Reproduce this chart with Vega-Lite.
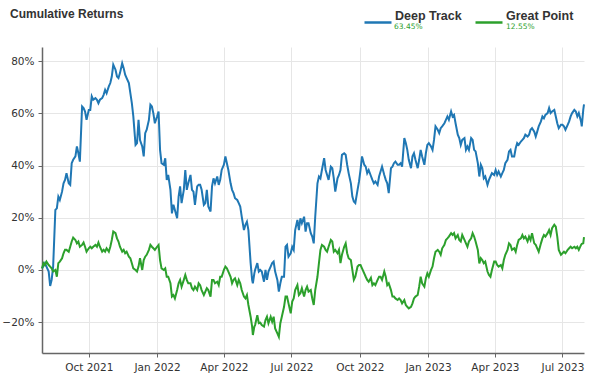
{
  "$schema": "https://vega.github.io/schema/vega-lite/v6.json",
  "width": 542,
  "height": 306,
  "autosize": "none",
  "padding": {"left": 42, "top": 47, "right": 15, "bottom": 38},
  "background": "white",
  "title": {"text": "Cumulative Returns", "anchor": "start", "frame": "group", "dx": -32, "dy": 13, "offset": 0, "font": "Liberation Sans", "fontSize": 12, "fontWeight": "bold", "color": "#333333"},
  "config": {"view": {"stroke": null}},
  "data": {"values": [
    {"date":"2021-07-30","Deep Track":0.6,"Great Point":0.6},
    {"date":"2021-08-01","Deep Track":1.5,"Great Point":2.6},
    {"date":"2021-08-03","Deep Track":2.6,"Great Point":1.9},
    {"date":"2021-08-05","Deep Track":1.3,"Great Point":3.2},
    {"date":"2021-08-08","Deep Track":-0.6,"Great Point":1.9},
    {"date":"2021-08-10","Deep Track":-6.1,"Great Point":1.3},
    {"date":"2021-08-12","Deep Track":-3.8,"Great Point":0.6},
    {"date":"2021-08-14","Deep Track":1.3,"Great Point":-0.6},
    {"date":"2021-08-17","Deep Track":23.0,"Great Point":0},
    {"date":"2021-08-19","Deep Track":23.6,"Great Point":-2.6},
    {"date":"2021-08-21","Deep Track":28.1,"Great Point":2.6},
    {"date":"2021-08-23","Deep Track":26.8,"Great Point":3.2},
    {"date":"2021-08-26","Deep Track":30.0,"Great Point":4.5},
    {"date":"2021-08-28","Deep Track":33.2,"Great Point":6.4},
    {"date":"2021-08-30","Deep Track":34.5,"Great Point":7.7},
    {"date":"2021-09-01","Deep Track":37.1,"Great Point":7.7},
    {"date":"2021-09-04","Deep Track":33.2,"Great Point":7.0},
    {"date":"2021-09-06","Deep Track":32.6,"Great Point":8.9},
    {"date":"2021-09-08","Deep Track":40.9,"Great Point":10.9},
    {"date":"2021-09-10","Deep Track":42.2,"Great Point":12.4},
    {"date":"2021-09-13","Deep Track":43.5,"Great Point":11.5},
    {"date":"2021-09-15","Deep Track":47.3,"Great Point":10.2},
    {"date":"2021-09-17","Deep Track":44.7,"Great Point":10.9},
    {"date":"2021-09-19","Deep Track":41.5,"Great Point":8.9},
    {"date":"2021-09-22","Deep Track":62.6,"Great Point":9.6},
    {"date":"2021-09-24","Deep Track":62.0,"Great Point":10.5},
    {"date":"2021-09-26","Deep Track":60.7,"Great Point":8.9},
    {"date":"2021-09-28","Deep Track":57.5,"Great Point":7.0},
    {"date":"2021-10-01","Deep Track":61.3,"Great Point":8.3},
    {"date":"2021-10-03","Deep Track":61.3,"Great Point":8.9},
    {"date":"2021-10-05","Deep Track":66.5,"Great Point":8.3},
    {"date":"2021-10-07","Deep Track":65.2,"Great Point":8.9},
    {"date":"2021-10-10","Deep Track":65.8,"Great Point":9.6},
    {"date":"2021-10-12","Deep Track":65.2,"Great Point":8.9},
    {"date":"2021-10-14","Deep Track":63.9,"Great Point":10.5},
    {"date":"2021-10-16","Deep Track":65.2,"Great Point":8.9},
    {"date":"2021-10-19","Deep Track":65.8,"Great Point":7.0},
    {"date":"2021-10-21","Deep Track":67.1,"Great Point":7.7},
    {"date":"2021-10-23","Deep Track":69.0,"Great Point":7.0},
    {"date":"2021-10-25","Deep Track":67.7,"Great Point":8.3},
    {"date":"2021-10-28","Deep Track":70.3,"Great Point":7.0},
    {"date":"2021-10-30","Deep Track":71.6,"Great Point":8.9},
    {"date":"2021-11-01","Deep Track":74.1,"Great Point":11.5},
    {"date":"2021-11-03","Deep Track":78.6,"Great Point":14.7},
    {"date":"2021-11-06","Deep Track":76.7,"Great Point":14.1},
    {"date":"2021-11-08","Deep Track":74.1,"Great Point":12.1},
    {"date":"2021-11-10","Deep Track":73.5,"Great Point":10.9},
    {"date":"2021-11-12","Deep Track":75.4,"Great Point":8.9},
    {"date":"2021-11-15","Deep Track":79.2,"Great Point":7.0},
    {"date":"2021-11-17","Deep Track":77.3,"Great Point":7.7},
    {"date":"2021-11-19","Deep Track":74.8,"Great Point":6.4},
    {"date":"2021-11-21","Deep Track":73.5,"Great Point":7.0},
    {"date":"2021-11-24","Deep Track":71.6,"Great Point":5.1},
    {"date":"2021-11-26","Deep Track":67.7,"Great Point":4.5},
    {"date":"2021-11-28","Deep Track":63.9,"Great Point":2.6},
    {"date":"2021-11-30","Deep Track":58.8,"Great Point":0.6},
    {"date":"2021-12-03","Deep Track":47.9,"Great Point":0},
    {"date":"2021-12-05","Deep Track":48.6,"Great Point":-0.6},
    {"date":"2021-12-07","Deep Track":57.5,"Great Point":1.3},
    {"date":"2021-12-09","Deep Track":49.8,"Great Point":4.5},
    {"date":"2021-12-12","Deep Track":47.3,"Great Point":0},
    {"date":"2021-12-14","Deep Track":43.5,"Great Point":3.8},
    {"date":"2021-12-16","Deep Track":52.4,"Great Point":5.1},
    {"date":"2021-12-18","Deep Track":53.7,"Great Point":5.8},
    {"date":"2021-12-21","Deep Track":57.5,"Great Point":7.7},
    {"date":"2021-12-23","Deep Track":63.3,"Great Point":9.6},
    {"date":"2021-12-25","Deep Track":62.6,"Great Point":8.9},
    {"date":"2021-12-27","Deep Track":60.0,"Great Point":8.3},
    {"date":"2021-12-29","Deep Track":56.2,"Great Point":7.7},
    {"date":"2022-01-01","Deep Track":58.8,"Great Point":8.9},
    {"date":"2022-01-03","Deep Track":60.7,"Great Point":9.6},
    {"date":"2022-01-05","Deep Track":46.0,"Great Point":3.8},
    {"date":"2022-01-07","Deep Track":40.9,"Great Point":0.6},
    {"date":"2022-01-10","Deep Track":40.3,"Great Point":0},
    {"date":"2022-01-12","Deep Track":42.8,"Great Point":0.6},
    {"date":"2022-01-14","Deep Track":34.5,"Great Point":-2.6},
    {"date":"2022-01-16","Deep Track":36.4,"Great Point":-2.6},
    {"date":"2022-01-19","Deep Track":30.7,"Great Point":-5.1},
    {"date":"2022-01-21","Deep Track":21.7,"Great Point":-10.2},
    {"date":"2022-01-23","Deep Track":25.0,"Great Point":-9.6},
    {"date":"2022-01-25","Deep Track":23.0,"Great Point":-10.9},
    {"date":"2022-01-28","Deep Track":19.8,"Great Point":-7.7},
    {"date":"2022-01-30","Deep Track":28.1,"Great Point":-5.1},
    {"date":"2022-02-01","Deep Track":32.0,"Great Point":-3.8},
    {"date":"2022-02-03","Deep Track":25.6,"Great Point":-6.4},
    {"date":"2022-02-06","Deep Track":30.7,"Great Point":-3.8},
    {"date":"2022-02-08","Deep Track":38.3,"Great Point":-1.9},
    {"date":"2022-02-10","Deep Track":30.7,"Great Point":-3.8},
    {"date":"2022-02-12","Deep Track":33.2,"Great Point":-5.1},
    {"date":"2022-02-15","Deep Track":36.4,"Great Point":-5.1},
    {"date":"2022-02-17","Deep Track":30.7,"Great Point":-7.0},
    {"date":"2022-02-19","Deep Track":30.0,"Great Point":-7.7},
    {"date":"2022-02-21","Deep Track":24.9,"Great Point":-6.4},
    {"date":"2022-02-24","Deep Track":32.0,"Great Point":-7.7},
    {"date":"2022-02-26","Deep Track":32.6,"Great Point":-5.1},
    {"date":"2022-02-28","Deep Track":32.6,"Great Point":-5.8},
    {"date":"2022-03-02","Deep Track":30.7,"Great Point":-7.7},
    {"date":"2022-03-05","Deep Track":24.9,"Great Point":-9.6},
    {"date":"2022-03-07","Deep Track":25.6,"Great Point":-8.3},
    {"date":"2022-03-09","Deep Track":30.7,"Great Point":-7.0},
    {"date":"2022-03-11","Deep Track":24.3,"Great Point":-7.7},
    {"date":"2022-03-14","Deep Track":22.4,"Great Point":-10.2},
    {"date":"2022-03-16","Deep Track":32.0,"Great Point":-3.8},
    {"date":"2022-03-18","Deep Track":35.1,"Great Point":-3.8},
    {"date":"2022-03-20","Deep Track":33.2,"Great Point":-5.1},
    {"date":"2022-03-23","Deep Track":35.8,"Great Point":-4.5},
    {"date":"2022-03-25","Deep Track":32.6,"Great Point":-5.8},
    {"date":"2022-03-27","Deep Track":34.5,"Great Point":-2.6},
    {"date":"2022-03-29","Deep Track":38.3,"Great Point":-2.6},
    {"date":"2022-04-01","Deep Track":40.3,"Great Point":0},
    {"date":"2022-04-03","Deep Track":43.5,"Great Point":1.3},
    {"date":"2022-04-05","Deep Track":40.9,"Great Point":0.6},
    {"date":"2022-04-07","Deep Track":38.3,"Great Point":-0.6},
    {"date":"2022-04-10","Deep Track":33.2,"Great Point":-2.6},
    {"date":"2022-04-12","Deep Track":30.7,"Great Point":-5.1},
    {"date":"2022-04-14","Deep Track":29.4,"Great Point":-3.8},
    {"date":"2022-04-16","Deep Track":27.5,"Great Point":-3.2},
    {"date":"2022-04-19","Deep Track":26.8,"Great Point":-5.8},
    {"date":"2022-04-21","Deep Track":25.6,"Great Point":-3.8},
    {"date":"2022-04-23","Deep Track":24.3,"Great Point":-5.1},
    {"date":"2022-04-25","Deep Track":20.4,"Great Point":-7.7},
    {"date":"2022-04-28","Deep Track":15.3,"Great Point":-10.2},
    {"date":"2022-04-30","Deep Track":17.3,"Great Point":-10.9},
    {"date":"2022-05-02","Deep Track":18.5,"Great Point":-9.6},
    {"date":"2022-05-04","Deep Track":15.3,"Great Point":-13.4},
    {"date":"2022-05-07","Deep Track":2.6,"Great Point":-17.9},
    {"date":"2022-05-09","Deep Track":-3.8,"Great Point":-21.7},
    {"date":"2022-05-10","Deep Track":-5.1,"Great Point":-24.9},
    {"date":"2022-05-12","Deep Track":-1.3,"Great Point":-21.7},
    {"date":"2022-05-13","Deep Track":0,"Great Point":-21.1},
    {"date":"2022-05-16","Deep Track":2.6,"Great Point":-17.3},
    {"date":"2022-05-18","Deep Track":-0.6,"Great Point":-20.4},
    {"date":"2022-05-20","Deep Track":0,"Great Point":-20.2},
    {"date":"2022-05-22","Deep Track":-0.6,"Great Point":-21.1},
    {"date":"2022-05-25","Deep Track":-4.5,"Great Point":-21.7},
    {"date":"2022-05-27","Deep Track":0,"Great Point":-19.2},
    {"date":"2022-05-29","Deep Track":-3.8,"Great Point":-17.9},
    {"date":"2022-05-31","Deep Track":-0.6,"Great Point":-20.4},
    {"date":"2022-06-03","Deep Track":1.3,"Great Point":-17.9},
    {"date":"2022-06-05","Deep Track":2.6,"Great Point":-19.8},
    {"date":"2022-06-07","Deep Track":3.2,"Great Point":-17.9},
    {"date":"2022-06-09","Deep Track":-0.6,"Great Point":-22.4},
    {"date":"2022-06-12","Deep Track":-3.8,"Great Point":-24.3},
    {"date":"2022-06-14","Deep Track":-8.3,"Great Point":-25.6},
    {"date":"2022-06-16","Deep Track":-5.1,"Great Point":-20.4},
    {"date":"2022-06-18","Deep Track":-2.6,"Great Point":-17.9},
    {"date":"2022-06-21","Deep Track":-2.6,"Great Point":-14.1},
    {"date":"2022-06-23","Deep Track":8.9,"Great Point":-10.2},
    {"date":"2022-06-25","Deep Track":9.6,"Great Point":-10.2},
    {"date":"2022-06-27","Deep Track":5.1,"Great Point":-12.8},
    {"date":"2022-06-30","Deep Track":6.4,"Great Point":-16.6},
    {"date":"2022-07-02","Deep Track":8.9,"Great Point":-12.1},
    {"date":"2022-07-04","Deep Track":7.7,"Great Point":-10.9},
    {"date":"2022-07-06","Deep Track":15.3,"Great Point":-7.7},
    {"date":"2022-07-09","Deep Track":19.2,"Great Point":-5.8},
    {"date":"2022-07-11","Deep Track":15.3,"Great Point":-9.6},
    {"date":"2022-07-13","Deep Track":19.8,"Great Point":-8.9},
    {"date":"2022-07-15","Deep Track":17.9,"Great Point":-7.0},
    {"date":"2022-07-18","Deep Track":20.4,"Great Point":-10.2},
    {"date":"2022-07-20","Deep Track":14.7,"Great Point":-7.7},
    {"date":"2022-07-22","Deep Track":17.9,"Great Point":-6.4},
    {"date":"2022-07-24","Deep Track":17.9,"Great Point":-8.3},
    {"date":"2022-07-27","Deep Track":14.1,"Great Point":-7.7},
    {"date":"2022-07-29","Deep Track":12.8,"Great Point":-10.9},
    {"date":"2022-07-31","Deep Track":10.2,"Great Point":-13.4},
    {"date":"2022-08-02","Deep Track":20.4,"Great Point":-7.7},
    {"date":"2022-08-05","Deep Track":33.2,"Great Point":-2.6},
    {"date":"2022-08-07","Deep Track":35.8,"Great Point":2.6},
    {"date":"2022-08-09","Deep Track":35.1,"Great Point":7.7},
    {"date":"2022-08-11","Deep Track":38.3,"Great Point":9.6},
    {"date":"2022-08-14","Deep Track":42.8,"Great Point":8.9},
    {"date":"2022-08-16","Deep Track":38.3,"Great Point":7.7},
    {"date":"2022-08-18","Deep Track":36.4,"Great Point":7.0},
    {"date":"2022-08-20","Deep Track":34.5,"Great Point":8.9},
    {"date":"2022-08-23","Deep Track":39.6,"Great Point":11.5},
    {"date":"2022-08-25","Deep Track":39.0,"Great Point":10.9},
    {"date":"2022-08-27","Deep Track":35.1,"Great Point":7.0},
    {"date":"2022-08-29","Deep Track":30.0,"Great Point":7.7},
    {"date":"2022-09-01","Deep Track":35.1,"Great Point":6.4},
    {"date":"2022-09-03","Deep Track":36.4,"Great Point":7.7},
    {"date":"2022-09-05","Deep Track":38.3,"Great Point":2.6},
    {"date":"2022-09-07","Deep Track":44.1,"Great Point":5.8},
    {"date":"2022-09-10","Deep Track":44.7,"Great Point":8.9},
    {"date":"2022-09-12","Deep Track":44.1,"Great Point":10.2},
    {"date":"2022-09-14","Deep Track":40.3,"Great Point":6.4},
    {"date":"2022-09-16","Deep Track":37.1,"Great Point":4.5},
    {"date":"2022-09-19","Deep Track":33.2,"Great Point":3.8},
    {"date":"2022-09-21","Deep Track":28.1,"Great Point":0},
    {"date":"2022-09-23","Deep Track":26.2,"Great Point":-3.8},
    {"date":"2022-09-25","Deep Track":25.6,"Great Point":-2.6},
    {"date":"2022-09-28","Deep Track":30.7,"Great Point":1.3},
    {"date":"2022-09-30","Deep Track":33.9,"Great Point":1.9},
    {"date":"2022-10-02","Deep Track":38.3,"Great Point":1.9},
    {"date":"2022-10-04","Deep Track":43.5,"Great Point":0.6},
    {"date":"2022-10-07","Deep Track":40.3,"Great Point":-1.3},
    {"date":"2022-10-09","Deep Track":39.6,"Great Point":-2.6},
    {"date":"2022-10-11","Deep Track":37.1,"Great Point":-3.8},
    {"date":"2022-10-13","Deep Track":38.3,"Great Point":-4.5},
    {"date":"2022-10-16","Deep Track":36.0,"Great Point":-3.0},
    {"date":"2022-10-18","Deep Track":34.5,"Great Point":-5.8},
    {"date":"2022-10-20","Deep Track":33.2,"Great Point":-5.1},
    {"date":"2022-10-22","Deep Track":33.9,"Great Point":-5.8},
    {"date":"2022-10-25","Deep Track":32.6,"Great Point":-3.8},
    {"date":"2022-10-27","Deep Track":35.8,"Great Point":-2.6},
    {"date":"2022-10-29","Deep Track":37.7,"Great Point":-2.6},
    {"date":"2022-10-31","Deep Track":39.6,"Great Point":-3.8},
    {"date":"2022-11-03","Deep Track":36.4,"Great Point":-0.6},
    {"date":"2022-11-05","Deep Track":34.5,"Great Point":-2.6},
    {"date":"2022-11-07","Deep Track":33.2,"Great Point":-5.8},
    {"date":"2022-11-09","Deep Track":29.4,"Great Point":-5.1},
    {"date":"2022-11-12","Deep Track":39.0,"Great Point":-7.7},
    {"date":"2022-11-14","Deep Track":39.6,"Great Point":-10.2},
    {"date":"2022-11-16","Deep Track":40.9,"Great Point":-10.2},
    {"date":"2022-11-18","Deep Track":41.5,"Great Point":-10.9},
    {"date":"2022-11-21","Deep Track":40.3,"Great Point":-11.5},
    {"date":"2022-11-23","Deep Track":40.3,"Great Point":-10.9},
    {"date":"2022-11-25","Deep Track":40.9,"Great Point":-11.5},
    {"date":"2022-11-27","Deep Track":39.6,"Great Point":-12.8},
    {"date":"2022-11-30","Deep Track":50.5,"Great Point":-11.5},
    {"date":"2022-12-02","Deep Track":48.6,"Great Point":-13.4},
    {"date":"2022-12-04","Deep Track":46.0,"Great Point":-14.1},
    {"date":"2022-12-06","Deep Track":42.2,"Great Point":-14.7},
    {"date":"2022-12-09","Deep Track":39.0,"Great Point":-14.1},
    {"date":"2022-12-11","Deep Track":43.5,"Great Point":-12.8},
    {"date":"2022-12-13","Deep Track":44.7,"Great Point":-10.9},
    {"date":"2022-12-15","Deep Track":42.2,"Great Point":-10.2},
    {"date":"2022-12-18","Deep Track":39.0,"Great Point":-9.6},
    {"date":"2022-12-20","Deep Track":42.2,"Great Point":-6.4},
    {"date":"2022-12-22","Deep Track":46.0,"Great Point":-2.6},
    {"date":"2022-12-24","Deep Track":43.5,"Great Point":-5.1},
    {"date":"2022-12-27","Deep Track":40.3,"Great Point":-6.4},
    {"date":"2022-12-29","Deep Track":44.7,"Great Point":-3.2},
    {"date":"2022-12-31","Deep Track":47.9,"Great Point":-1.3},
    {"date":"2023-01-02","Deep Track":48.6,"Great Point":-2.6},
    {"date":"2023-01-05","Deep Track":47.3,"Great Point":0},
    {"date":"2023-01-07","Deep Track":46.0,"Great Point":1.3},
    {"date":"2023-01-09","Deep Track":49.8,"Great Point":4.5},
    {"date":"2023-01-11","Deep Track":55.0,"Great Point":7.0},
    {"date":"2023-01-14","Deep Track":53.7,"Great Point":7.7},
    {"date":"2023-01-16","Deep Track":52.4,"Great Point":7.0},
    {"date":"2023-01-18","Deep Track":54.3,"Great Point":5.8},
    {"date":"2023-01-20","Deep Track":55.0,"Great Point":8.3},
    {"date":"2023-01-23","Deep Track":56.2,"Great Point":9.6},
    {"date":"2023-01-25","Deep Track":57.5,"Great Point":11.5},
    {"date":"2023-01-27","Deep Track":58.8,"Great Point":12.1},
    {"date":"2023-01-29","Deep Track":57.5,"Great Point":12.8},
    {"date":"2023-02-01","Deep Track":60.7,"Great Point":14.1},
    {"date":"2023-02-03","Deep Track":58.8,"Great Point":13.4},
    {"date":"2023-02-05","Deep Track":59.4,"Great Point":14.1},
    {"date":"2023-02-07","Deep Track":56.2,"Great Point":12.1},
    {"date":"2023-02-10","Deep Track":51.8,"Great Point":13.4},
    {"date":"2023-02-12","Deep Track":50.5,"Great Point":11.5},
    {"date":"2023-02-14","Deep Track":47.9,"Great Point":10.9},
    {"date":"2023-02-16","Deep Track":49.8,"Great Point":13.4},
    {"date":"2023-02-19","Deep Track":50.5,"Great Point":11.5},
    {"date":"2023-02-21","Deep Track":46.0,"Great Point":10.2},
    {"date":"2023-02-23","Deep Track":47.3,"Great Point":8.9},
    {"date":"2023-02-25","Deep Track":46.0,"Great Point":10.9},
    {"date":"2023-02-28","Deep Track":50.5,"Great Point":12.1},
    {"date":"2023-03-02","Deep Track":49.8,"Great Point":14.1},
    {"date":"2023-03-04","Deep Track":46.0,"Great Point":12.8},
    {"date":"2023-03-06","Deep Track":45.4,"Great Point":10.9},
    {"date":"2023-03-09","Deep Track":40.9,"Great Point":7.7},
    {"date":"2023-03-11","Deep Track":35.8,"Great Point":2.5},
    {"date":"2023-03-13","Deep Track":40.3,"Great Point":4.5},
    {"date":"2023-03-15","Deep Track":39.0,"Great Point":3.8},
    {"date":"2023-03-17","Deep Track":35.1,"Great Point":2.6},
    {"date":"2023-03-19","Deep Track":35.8,"Great Point":3.2},
    {"date":"2023-03-22","Deep Track":32.6,"Great Point":-0.6},
    {"date":"2023-03-24","Deep Track":34.5,"Great Point":-1.9},
    {"date":"2023-03-26","Deep Track":35.8,"Great Point":-2.6},
    {"date":"2023-03-28","Deep Track":37.1,"Great Point":0},
    {"date":"2023-03-31","Deep Track":36.4,"Great Point":3.2},
    {"date":"2023-04-02","Deep Track":38.3,"Great Point":3.2},
    {"date":"2023-04-04","Deep Track":36.4,"Great Point":1.9},
    {"date":"2023-04-06","Deep Track":37.7,"Great Point":1.3},
    {"date":"2023-04-09","Deep Track":35.8,"Great Point":1.9},
    {"date":"2023-04-11","Deep Track":37.1,"Great Point":0.6},
    {"date":"2023-04-13","Deep Track":38.3,"Great Point":3.8},
    {"date":"2023-04-15","Deep Track":40.9,"Great Point":5.8},
    {"date":"2023-04-18","Deep Track":42.2,"Great Point":7.7},
    {"date":"2023-04-20","Deep Track":45.4,"Great Point":10.2},
    {"date":"2023-04-22","Deep Track":46.0,"Great Point":9.6},
    {"date":"2023-04-24","Deep Track":43.5,"Great Point":7.7},
    {"date":"2023-04-27","Deep Track":43.5,"Great Point":8.3},
    {"date":"2023-04-29","Deep Track":46.6,"Great Point":7.0},
    {"date":"2023-05-01","Deep Track":48.6,"Great Point":9.6},
    {"date":"2023-05-03","Deep Track":47.9,"Great Point":11.5},
    {"date":"2023-05-06","Deep Track":49.2,"Great Point":12.1},
    {"date":"2023-05-08","Deep Track":49.8,"Great Point":13.4},
    {"date":"2023-05-10","Deep Track":50.5,"Great Point":12.1},
    {"date":"2023-05-12","Deep Track":51.8,"Great Point":12.8},
    {"date":"2023-05-15","Deep Track":51.1,"Great Point":10.9},
    {"date":"2023-05-17","Deep Track":51.8,"Great Point":12.8},
    {"date":"2023-05-19","Deep Track":53.7,"Great Point":11.5},
    {"date":"2023-05-21","Deep Track":54.3,"Great Point":14.1},
    {"date":"2023-05-24","Deep Track":53.0,"Great Point":10.2},
    {"date":"2023-05-26","Deep Track":51.1,"Great Point":9.6},
    {"date":"2023-05-28","Deep Track":53.0,"Great Point":8.3},
    {"date":"2023-05-30","Deep Track":55.0,"Great Point":7.0},
    {"date":"2023-06-02","Deep Track":56.9,"Great Point":10.2},
    {"date":"2023-06-04","Deep Track":58.8,"Great Point":12.1},
    {"date":"2023-06-06","Deep Track":58.1,"Great Point":13.4},
    {"date":"2023-06-08","Deep Track":59.4,"Great Point":12.8},
    {"date":"2023-06-11","Deep Track":60.1,"Great Point":14.1},
    {"date":"2023-06-13","Deep Track":62.0,"Great Point":15.3},
    {"date":"2023-06-15","Deep Track":60.1,"Great Point":13.4},
    {"date":"2023-06-17","Deep Track":60.7,"Great Point":16.0},
    {"date":"2023-06-20","Deep Track":61.3,"Great Point":17.3},
    {"date":"2023-06-22","Deep Track":58.8,"Great Point":16.6},
    {"date":"2023-06-24","Deep Track":56.2,"Great Point":12.8},
    {"date":"2023-06-26","Deep Track":54.3,"Great Point":7.7},
    {"date":"2023-06-29","Deep Track":55.6,"Great Point":5.8},
    {"date":"2023-07-01","Deep Track":55.6,"Great Point":6.4},
    {"date":"2023-07-03","Deep Track":55.0,"Great Point":7.0},
    {"date":"2023-07-05","Deep Track":53.7,"Great Point":6.4},
    {"date":"2023-07-08","Deep Track":55.6,"Great Point":7.7},
    {"date":"2023-07-10","Deep Track":56.9,"Great Point":8.3},
    {"date":"2023-07-12","Deep Track":58.8,"Great Point":8.9},
    {"date":"2023-07-14","Deep Track":60.1,"Great Point":8.3},
    {"date":"2023-07-17","Deep Track":61.3,"Great Point":8.9},
    {"date":"2023-07-19","Deep Track":60.7,"Great Point":8.3},
    {"date":"2023-07-21","Deep Track":58.8,"Great Point":8.9},
    {"date":"2023-07-23","Deep Track":60.1,"Great Point":7.7},
    {"date":"2023-07-26","Deep Track":56.9,"Great Point":9.6},
    {"date":"2023-07-27","Deep Track":55.0,"Great Point":10.0},
    {"date":"2023-07-29","Deep Track":61.3,"Great Point":10.2},
    {"date":"2023-07-30","Deep Track":63.45,"Great Point":12.55}
  ]},
  "transform": [
    {"fold": ["Deep Track", "Great Point"], "as": ["series", "ret"]},
    {"lookup": "series", "from": {"data": {"values": [{"series": "Deep Track", "pct": "63.45%"}, {"series": "Great Point", "pct": "12.55%"}]}, "key": "series", "fields": ["pct"]}}
  ],
  "mark": {"type": "line", "strokeWidth": 2, "interpolate": "linear"},
  "encoding": {
    "x": {"field": "date", "type": "temporal", "scale": {"nice": false},
      "axis": {"title": null, "format": "%b %Y", "tickCount": {"interval": "month", "step": 3}, "grid": true, "gridColor": "#e6e6e6", "domainColor": "#666666", "domainWidth": 1.5, "tickColor": "#666666", "tickSize": 4, "labelPadding": 5, "labelFont": "DejaVu Sans", "labelFontSize": 10.5, "labelColor": "#333333", "labelFlush": false}},
    "y": {"field": "ret", "type": "quantitative", "scale": {"domain": [-31.8, 85.4], "nice": false, "zero": false},
      "axis": {"title": null, "values": [-20, 0, 20, 40, 60, 80], "labelExpr": "format(datum.value, 'd') + '%'", "grid": true, "gridColor": "#e6e6e6", "domainColor": "#666666", "domainWidth": 1.5, "tickColor": "#666666", "tickSize": 4, "labelPadding": 4, "labelFont": "DejaVu Sans", "labelFontSize": 10.5, "labelColor": "#333333"}},
    "color": {"field": "series", "type": "nominal", "scale": {"domain": ["Deep Track", "Great Point"], "range": ["#1f77b4", "#2ca02c"]},
      "legend": {"orient": "none", "legendX": 321, "legendY": -39.5, "direction": "horizontal", "title": null, "padding": 0, "symbolType": "stroke", "symbolSize": 729, "symbolStrokeWidth": 2.5, "labelFont": "Liberation Sans", "labelFontSize": 12.5, "labelFontWeight": "bold", "labelColor": "#333333", "labelBaseline": "bottom", "labelOffset": 2, "columnPadding": 8}},
    "opacity": {"field": "pct", "type": "ordinal", "sort": ["63.45%", "12.55%"], "scale": {"range": [1, 1]},
      "legend": {"orient": "none", "legendX": 321, "legendY": -37.5, "direction": "horizontal", "title": null, "padding": 0, "symbolType": "stroke", "symbolSize": 729, "symbolStrokeWidth": 0, "symbolStrokeColor": "transparent", "labelFont": "DejaVu Sans", "labelFontSize": 7.5, "labelColor": "#2ca02c", "labelBaseline": "top", "labelOffset": 4, "columnPadding": 52}}
  }
}
